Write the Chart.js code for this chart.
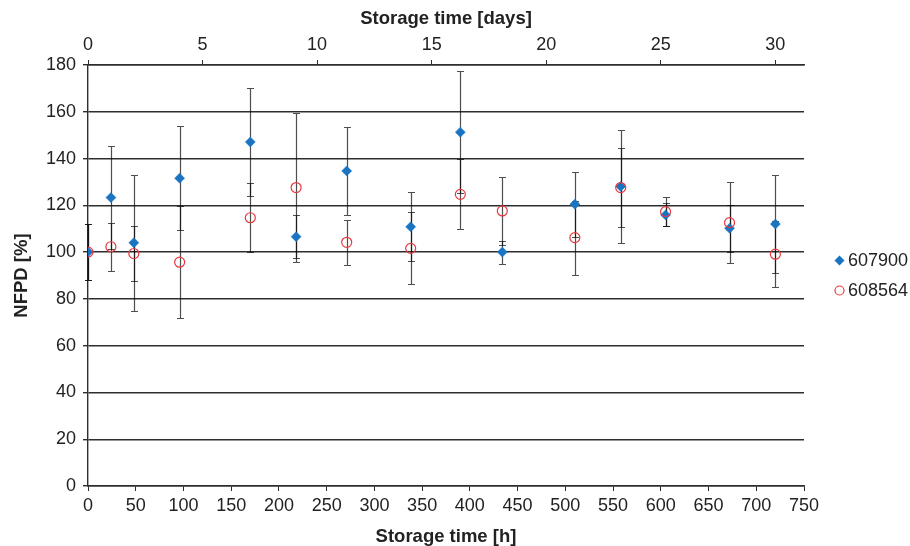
<!DOCTYPE html>
<html>
<head>
<meta charset="utf-8">
<script src="https://cdn.jsdelivr.net/npm/chart.js@4/dist/chart.umd.min.js"></script>
<style>
  html, body { margin: 0; padding: 0; background: #ffffff; }
  #wrap { width: 910px; height: 546px; }
</style>
</head>
<body>
<div id="wrap"><canvas id="chart" width="910" height="546"></canvas></div>
<script>
// Storage time of each measurement [h]
const storageHours = [0, 24, 48, 96, 170, 218, 271, 338, 390, 434, 510, 558, 605, 672, 720];

// Normalised values [%] and their error (±) for each sample
const nfpd607900 = [100, 123.3, 104.0, 131.6, 147.1, 106.6, 134.7, 110.8, 151.3, 100.0, 120.5, 128.1, 115.9, 110.2, 112.0];
const err607900  = [12, 22.0, 29.0, 22.2, 23.2, 9.2, 18.7, 14.8, 26.0, 4.9, 13.9, 24.3, 4.9, 10.0, 21.1];
const nfpd608564 = [100, 102.3, 99.4, 95.7, 114.7, 127.6, 104.2, 101.6, 124.7, 117.6, 106.2, 127.6, 117.3, 112.6, 99.1];
const err608564  = [12, 10.3, 11.6, 24.0, 14.7, 31.9, 9.5, 15.4, 15.0, 14.7, 15.8, 16.8, 6.3, 17.3, 14.1];

const seriesNames = ['607900', '608564'];

// Axis ranges and tick steps
const hourAxis = { min: 0, max: 750, step: 50 };
const dayAxis  = { min: 0, max: 750 / 24, step: 5 };
const nfpdAxis = { min: 0, max: 180, step: 20 };

const BLUE = '#1a74c2';
const RED = '#e8383e';
const INK = '#222222';
const LINE = '#2e2e2e';

Chart.defaults.font.family = "'Liberation Sans', Arial, Helvetica, sans-serif";
Chart.defaults.color = INK;

const toPoints = (vals) => vals.map((v, i) => ({ x: storageHours[i], y: v }));

// Vertical error bars with small caps, drawn beneath the markers
const errorBars = {
  id: 'errorBars',
  beforeDatasetsDraw(chart) {
    const { ctx } = chart;
    const x = chart.scales.x, y = chart.scales.y;
    ctx.save();
    ctx.strokeStyle = 'rgba(10,10,10,0.72)';
    ctx.lineWidth = 1.2;
    chart.data.datasets.forEach((ds) => {
      ds.data.forEach((p, i) => {
        const e = ds.errors[i];
        const px = Math.round(x.getPixelForValue(p.x)) + 0.5;
        const yt = Math.round(y.getPixelForValue(p.y + e)) + 0.5;
        const yb = Math.round(y.getPixelForValue(p.y - e)) + 0.5;
        ctx.beginPath();
        ctx.moveTo(px, yt); ctx.lineTo(px, yb);
        ctx.moveTo(px - 3.5, yt); ctx.lineTo(px + 3.5, yt);
        ctx.moveTo(px - 3.5, yb); ctx.lineTo(px + 3.5, yb);
        ctx.stroke();
      });
    });
    ctx.restore();
  }
};

// Legend to the right of the plot area
const sideLegend = {
  id: 'sideLegend',
  afterDraw(chart) {
    const { ctx, chartArea } = chart;
    const cx = chartArea.right + 35.5;
    const midY = (chartArea.top + chartArea.bottom) / 2;
    const rows = [midY - 15, midY + 15];
    ctx.save();
    chart.data.datasets.slice().sort((a, b) => a.legendIndex - b.legendIndex).forEach((ds, k) => {
      const cy = rows[k];
      ctx.beginPath();
      if (ds.pointStyle === 'rectRot') {
        const r = ds.pointRadius;
        ctx.moveTo(cx - r, cy); ctx.lineTo(cx, cy - r);
        ctx.lineTo(cx + r, cy); ctx.lineTo(cx, cy + r);
        ctx.closePath();
        ctx.fillStyle = ds.backgroundColor;
        ctx.fill();
      } else {
        ctx.arc(cx, cy, ds.pointRadius - 0.5, 0, Math.PI * 2);
        ctx.strokeStyle = ds.borderColor;
        ctx.lineWidth = ds.borderWidth;
        ctx.stroke();
      }
      ctx.fillStyle = INK;
      ctx.font = "18px 'Liberation Sans', Arial, sans-serif";
      ctx.textBaseline = 'middle';
      ctx.textAlign = 'left';
      ctx.fillText(ds.label, cx + 8.5, cy + 1);
    });
    ctx.restore();
  }
};

const tickFont = { size: 18 };
const titleFont = { size: 18.5, weight: 'bold', lineHeight: 1 };

new Chart(document.getElementById('chart'), {
  type: 'scatter',
  data: {
    datasets: [
      {
        label: seriesNames[1],
        legendIndex: 1,
        data: toPoints(nfpd608564),
        errors: err608564,
        pointStyle: 'circle',
        pointRadius: 5,
        backgroundColor: 'rgba(0,0,0,0)',
        borderColor: RED,
        borderWidth: 1.2,
        order: 0
      },
      {
        label: seriesNames[0],
        legendIndex: 0,
        data: toPoints(nfpd607900),
        errors: err607900,
        pointStyle: 'rectRot',
        pointRadius: 5,
        backgroundColor: BLUE,
        borderColor: BLUE,
        borderWidth: 0.5,
        order: 1
      }
    ]
  },
  options: {
    responsive: false,
    devicePixelRatio: 1,
    animation: false,
    events: [],
    layout: { padding: { left: 0, top: 0, right: 106, bottom: 0 } },
    plugins: {
      legend: { display: false },
      tooltip: { enabled: false }
    },
    scales: {
      x: {
        type: 'linear',
        position: 'bottom',
        min: hourAxis.min,
        max: hourAxis.max,
        ticks: { stepSize: hourAxis.step, padding: 4, font: tickFont, color: INK, maxRotation: 0, includeBounds: false },
        grid: { drawOnChartArea: false, tickLength: 5, color: LINE, lineWidth: 1 },
        border: { color: LINE, width: 1.4 },
        title: { display: true, text: 'Storage time [h]', font: titleFont, color: INK, padding: { top: 0, bottom: 0 } },
        afterFit(scale) { scale.height = 60; }
      },
      xDays: {
        type: 'linear',
        position: 'top',
        min: dayAxis.min,
        max: dayAxis.max,
        ticks: { stepSize: dayAxis.step, padding: 4, font: tickFont, color: INK, maxRotation: 0, includeBounds: false },
        grid: { drawOnChartArea: false, tickLength: 5, color: LINE, lineWidth: 1 },
        border: { color: LINE, width: 1.4 },
        title: { display: true, text: 'Storage time [days]', font: titleFont, color: INK, padding: { top: 10, bottom: 0 } },
        afterFit(scale) { scale.height = 65; }
      },
      y: {
        type: 'linear',
        position: 'left',
        min: nfpdAxis.min,
        max: nfpdAxis.max,
        ticks: { stepSize: nfpdAxis.step, padding: 7, font: tickFont, color: INK },
        grid: { color: LINE, lineWidth: 1.4, tickLength: 5 },
        border: { color: LINE, width: 1.4 },
        title: { display: true, text: 'NFPD [%]', font: titleFont, color: INK, padding: { top: 12.5, bottom: 0 } },
        afterFit(scale) { scale.width = 88; }
      }
    }
  },
  plugins: [errorBars, sideLegend]
});
</script>
</body>
</html>
